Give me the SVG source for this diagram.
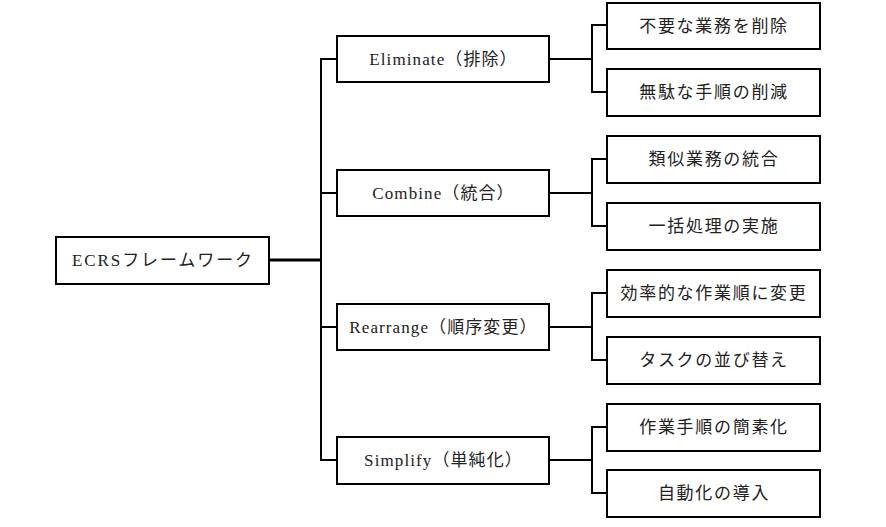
<svg xmlns="http://www.w3.org/2000/svg" width="886" height="527" viewBox="0 0 886 527">
<style>
.box{fill:#fff;stroke:#000;stroke-width:2}
.t{font-family:"Liberation Serif","Noto Sans CJK JP",serif;font-size:17px;fill:#222;text-anchor:middle;dominant-baseline:central}
.r{letter-spacing:1.9px}
.m{letter-spacing:1.1px}
.l{letter-spacing:1.7px}
.c{fill:none;stroke:#000;stroke-width:2}
.c3{fill:none;stroke:#000;stroke-width:3}
</style>
<rect width="886" height="527" fill="#fff"/>
<g id="connectors">
<line class="c3" x1="269" y1="260" x2="321" y2="260"/>
<line class="c" x1="321" y1="59" x2="321" y2="461"/>
<line class="c" x1="320" y1="59" x2="337" y2="59"/>
<line class="c" x1="320" y1="193" x2="337" y2="193"/>
<line class="c" x1="320" y1="327" x2="337" y2="327"/>
<line class="c" x1="320" y1="460" x2="337" y2="460"/>
<line class="c" x1="549" y1="59" x2="592" y2="59"/>
<line class="c" x1="592" y1="25" x2="592" y2="93"/>
<line class="c" x1="591" y1="25" x2="607" y2="25"/>
<line class="c" x1="591" y1="92" x2="607" y2="92"/>
<line class="c" x1="549" y1="193" x2="592" y2="193"/>
<line class="c" x1="592" y1="159" x2="592" y2="227"/>
<line class="c" x1="591" y1="159" x2="607" y2="159"/>
<line class="c" x1="591" y1="226" x2="607" y2="226"/>
<line class="c" x1="549" y1="327" x2="592" y2="327"/>
<line class="c" x1="592" y1="293" x2="592" y2="361"/>
<line class="c" x1="591" y1="293" x2="607" y2="293"/>
<line class="c" x1="591" y1="360" x2="607" y2="360"/>
<line class="c" x1="549" y1="460" x2="592" y2="460"/>
<line class="c" x1="592" y1="427" x2="592" y2="494"/>
<line class="c" x1="591" y1="427" x2="607" y2="427"/>
<line class="c" x1="591" y1="493" x2="607" y2="493"/>
</g>
<g id="root"><rect class="box" x="56" y="237" width="213" height="47"/><text class="t r" x="163" y="260.5">ECRSフレームワーク</text></g>
<g id="eliminate"><rect class="box" x="337" y="36" width="212" height="46"/><text class="t m" x="443.5" y="59">Eliminate（排除）</text></g>
<g id="combine"><rect class="box" x="337" y="170" width="212" height="46"/><text class="t m" x="443.5" y="193">Combine（統合）</text></g>
<g id="rearrange"><rect class="box" x="337" y="304" width="212" height="46"/><text class="t m" x="443.5" y="327">Rearrange（順序変更）</text></g>
<g id="simplify"><rect class="box" x="337" y="437" width="212" height="47"/><text class="t m" x="443.5" y="460.5">Simplify（単純化）</text></g>
<g id="e1"><rect class="box" x="607" y="3" width="213" height="46"/><text class="t l" x="714" y="26">不要な業務を削除</text></g>
<g id="e2"><rect class="box" x="607" y="69" width="213" height="47"/><text class="t l" x="714" y="92.5">無駄な手順の削減</text></g>
<g id="c1"><rect class="box" x="607" y="136" width="213" height="47"/><text class="t l" x="714" y="159.5">類似業務の統合</text></g>
<g id="c2"><rect class="box" x="607" y="203" width="213" height="47"/><text class="t l" x="714" y="226.5">一括処理の実施</text></g>
<g id="r1"><rect class="box" x="607" y="270" width="213" height="47"/><text class="t l" x="714" y="293.5">効率的な作業順に変更</text></g>
<g id="r2"><rect class="box" x="607" y="337" width="213" height="47"/><text class="t l" x="714" y="360.5">タスクの並び替え</text></g>
<g id="s1"><rect class="box" x="607" y="404" width="213" height="47"/><text class="t l" x="714" y="427.5">作業手順の簡素化</text></g>
<g id="s2"><rect class="box" x="607" y="470" width="213" height="47"/><text class="t l" x="714" y="493.5">自動化の導入</text></g>
</svg>
